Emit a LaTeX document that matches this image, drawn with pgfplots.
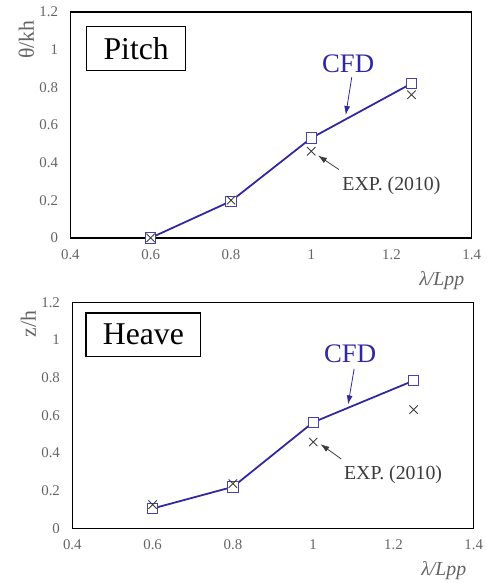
\documentclass[border=0pt]{standalone}
\usepackage{pgfplots}
\pgfplotsset{compat=1.18}
\usetikzlibrary{arrows.meta}
\usepackage{fontspec}
\setmainfont{Liberation Serif}
\definecolor{cfdblue}{RGB}{48,40,160}
\definecolor{sqblue}{RGB}{70,65,175}
\definecolor{expgray}{RGB}{60,60,60}
\definecolor{tickgray}{RGB}{100,100,100}

\tikzset{arr/.style={-{Latex[length=9pt,width=6pt]}, line width=0.8pt}}
\pgfplotsset{
  panel/.style={
    scale only axis, width=405pt, height=228pt,
    xmin=0.4, xmax=1.4, ymin=0, ymax=1.2,
    xtick={0.4,0.6,...,1.4}, ytick={0,0.2,...,1.2},
    major tick length=0pt,
    axis line style={line width=1.3pt},
    /pgf/number format/assume math mode=true,
    ticklabel style={font=\fontsize{15}{17}\selectfont, text=tickgray},
    xticklabel style={yshift=-8pt},
    yticklabel style={xshift=-9pt},
    xlabel={\itshape λ/Lpp},
    xlabel style={at={(rel axis cs:1,0)}, anchor=north east, yshift=-30pt, xshift=-4pt,
                  font=\fontsize{20}{22}\selectfont, text=tickgray},
    clip=false,
  },
  cfd/.style={cfdblue, line width=1.8pt, mark=square*, mark size=5.2pt,
              mark options={fill=white, draw=sqblue, line width=1pt}},
  exp/.style={only marks, mark=x, mark size=6pt,
              mark options={draw=expgray, line width=0.9pt}},
}

\begin{document}
\begin{tikzpicture}
% Pitch
\begin{axis}[panel, name=top,
  ylabel={θ/kh},
  ylabel style={at={([xshift=-33pt,yshift=-5pt]rel axis cs:0,1)}, anchor=south east,
                font=\fontsize{22}{24}\selectfont, text=tickgray},
]
\addplot[cfd] coordinates {(0.6,0) (0.8,0.195) (1.0,0.53) (1.25,0.82)};
\addplot[exp] coordinates {(0.6,0) (0.8,0.2) (1.0,0.46) (1.25,0.76)};
\node[draw, line width=1.5pt, inner xsep=17pt, minimum height=44pt,
      font=\fontsize{32}{34}\selectfont] at (rel axis cs:0.164,0.838) {Pitch};
\node[text=cfdblue, font=\fontsize{27}{29}\selectfont] at (axis cs:1.092,0.925) {CFD};
\draw[arr, cfdblue] (axis cs:1.101,0.853) -- (axis cs:1.086,0.653);
\draw[arr, expgray] (axis cs:1.069,0.363) -- (axis cs:1.017,0.437);
\node[text=expgray, font=\fontsize{20}{22}\selectfont] at (axis cs:1.2,0.279) {EXP. (2010)};
\end{axis}
% Heave
\begin{axis}[panel, name=bot, at={(2pt,-293pt)},
  ylabel={z/h},
  ylabel style={at={([xshift=-33pt,yshift=-5pt]rel axis cs:0,1)}, anchor=south east,
                font=\fontsize{22}{24}\selectfont, text=tickgray},
]
\addplot[cfd] coordinates {(0.6,0.105) (0.8,0.22) (1.0,0.563) (1.25,0.784)};
\addplot[exp] coordinates {(0.6,0.126) (0.8,0.237) (1.0,0.458) (1.25,0.63)};
\node[draw, line width=1.5pt, inner xsep=17pt, minimum height=44pt,
      font=\fontsize{32}{34}\selectfont] at (rel axis cs:0.177,0.857) {Heave};
\node[text=cfdblue, font=\fontsize{27}{29}\selectfont] at (axis cs:1.092,0.926) {CFD};
\draw[arr, cfdblue] (axis cs:1.102,0.847) -- (axis cs:1.087,0.658);
\draw[arr, expgray] (axis cs:1.07,0.368) -- (axis cs:1.018,0.447);
\node[text=expgray, font=\fontsize{20}{22}\selectfont] at (axis cs:1.199,0.284) {EXP. (2010)};
\end{axis}
% margins as in the reference
\path ([xshift=-71pt,yshift=12pt]top.north west) ([xshift=13pt,yshift=-50pt]bot.south east);
\end{tikzpicture}
\end{document}
